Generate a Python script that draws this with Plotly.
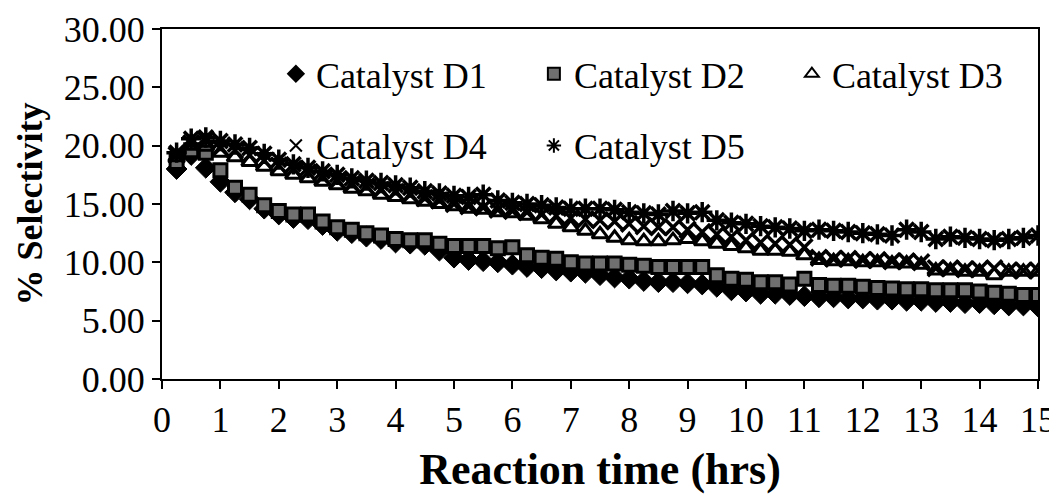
import plotly.graph_objects as go

hours = [0.25 * i for i in range(1, 61)]

d1 = [18.0, 19.2, 18.1, 16.9, 16.0, 15.4, 14.6, 14.1, 13.8, 13.7,
      13.2, 12.7, 12.5, 12.2, 12.0, 11.7, 11.6, 11.5, 11.0, 10.4,
      10.2, 10.1, 10.0, 9.8, 9.6, 9.5, 9.3, 9.2, 9.1, 8.9,
      8.7, 8.6, 8.4, 8.3, 8.3, 8.2, 8.1, 7.9, 7.6, 7.5,
      7.3, 7.3, 7.2, 7.1, 7.0, 7.0, 6.9, 6.9, 6.8, 6.8,
      6.7, 6.7, 6.6, 6.6, 6.5, 6.5, 6.4, 6.3, 6.3, 6.2]

d2 = [18.6, 19.6, 19.4, 17.9, 16.4, 15.8, 14.9, 14.4, 14.1, 14.1,
      13.5, 13.0, 12.8, 12.5, 12.3, 12.0, 11.9, 11.9, 11.6, 11.4,
      11.4, 11.4, 11.2, 11.3, 10.6, 10.4, 10.3, 10.0, 9.9, 9.9,
      9.9, 9.8, 9.7, 9.6, 9.6, 9.6, 9.6, 8.9, 8.6, 8.5,
      8.3, 8.3, 8.1, 8.6, 8.05, 8.0, 8.0, 7.9, 7.8, 7.75,
      7.7, 7.7, 7.6, 7.6, 7.6, 7.5, 7.4, 7.3, 7.2, 7.2]

d3 = [19.0, 20.0, 19.9, 19.4, 19.0, 18.6, 18.2, 17.8, 17.5, 17.2,
      16.9, 16.6, 16.3, 16.1, 15.8, 15.6, 15.4, 15.2, 15.0, 14.8,
      14.6, 14.5, 14.3, 14.2, 14.0, 13.7, 13.3, 13.0, 12.7, 12.4,
      12.1, 11.9, 11.8, 11.8, 11.9, 12.0, 11.8, 11.6, 11.4, 11.2,
      11.0, 11.0, 10.9, 10.6, 10.2, 10.1, 10.1, 10.0, 10.0, 9.9,
      9.9, 9.8, 9.3, 9.3, 9.2, 9.2, 8.9, 9.2, 9.2, 9.2]

d4 = [19.2, 20.2, 20.5, 19.8, 19.6, 19.2, 18.7, 18.3, 18.0, 17.7,
      17.3, 17.0, 16.7, 16.5, 16.2, 16.0, 15.8, 15.5, 15.3, 15.0,
      14.8, 14.7, 14.5, 14.4, 14.3, 14.1, 14.0, 13.8, 13.7, 13.6,
      13.5, 13.3, 13.1, 13.0, 13.0, 12.8, 12.6, 12.4, 12.2, 11.9,
      11.7, 11.6, 11.5, 11.3, 10.4, 10.3, 10.3, 10.2, 10.2, 10.1,
      10.1, 10.0, 9.5, 9.5, 9.4, 9.4, 9.5, 9.3, 9.3, 9.3]

d5 = [19.4, 20.6, 20.7, 20.4, 20.1, 19.8, 19.3, 18.8, 18.4, 18.1,
      17.8, 17.5, 17.2, 17.0, 16.8, 16.6, 16.4, 16.1, 15.9, 15.7,
      15.6, 15.8, 15.3, 15.1, 15.0, 14.9, 14.7, 14.6, 14.6, 14.6,
      14.5, 14.3, 14.2, 14.1, 14.4, 14.2, 14.3, 13.6, 13.4, 13.3,
      13.1, 13.0, 12.9, 12.7, 12.8, 12.7, 12.6, 12.5, 12.4, 12.3,
      12.8, 12.6, 12.0, 12.2, 12.1, 12.0, 11.9, 12.0, 12.1, 12.3]

names = ["Catalyst D1", "Catalyst D2", "Catalyst D3", "Catalyst D4", "Catalyst D5"]

FONT = "Liberation Serif, Times New Roman, serif"

fig = go.Figure()
fig.add_trace(go.Scatter(x=hours, y=d1, mode="markers", name=names[0], legend="legend",
                         marker=dict(symbol="diamond", size=16, color="black",
                                     line=dict(color="black", width=1))))
fig.add_trace(go.Scatter(x=hours, y=d2, mode="markers", name=names[1], legend="legend",
                         marker=dict(symbol="square", size=13, color="#707070",
                                     line=dict(color="black", width=3))))
fig.add_trace(go.Scatter(x=hours, y=d3, mode="markers", name=names[2], legend="legend",
                         marker=dict(symbol="triangle-up-open", size=14, color="black",
                                     line=dict(color="black", width=3))))
fig.add_trace(go.Scatter(x=hours, y=d4, mode="markers", name=names[3], legend="legend2",
                         marker=dict(symbol="x-thin-open", size=16, color="black",
                                     line=dict(color="black", width=3.5))))
fig.add_trace(go.Scatter(x=hours, y=d5, mode="markers", name=names[4], legend="legend2",
                         marker=dict(symbol="asterisk-open", size=17, color="black",
                                     line=dict(color="black", width=3.5))))

legend_common = dict(orientation="h", xanchor="left", yanchor="middle",
                     font=dict(family=FONT, size=36, color="black"),
                     bgcolor="rgba(0,0,0,0)", entrywidth=213, itemwidth=30,
                     itemsizing="constant", tracegroupgap=0)
fig.update_layout(
    width=1049, height=486,
    margin=dict(l=154, r=19, t=21, b=115, autoexpand=False),
    paper_bgcolor="white", plot_bgcolor="white",
    font=dict(family=FONT, size=36, color="black"),
    showlegend=True,
    legend=dict(x=0.13, y=0.872, **legend_common),
    legend2=dict(x=0.13, y=0.667, **legend_common),
    xaxis=dict(range=[0, 15], dtick=1, tick0=0, showgrid=False, zeroline=False,
               automargin=False,
               showline=True, linecolor="black", linewidth=2, mirror=True,
               ticks="outside", ticklen=8, tickwidth=2, tickcolor="black",
               tickfont=dict(family=FONT, size=36),
               title=dict(text="<b>Reaction time (hrs)</b>", font=dict(family=FONT, size=44),
                          standoff=14)),
    yaxis=dict(range=[0, 30], dtick=5, tick0=0, tickformat=".2f", showgrid=False,
               automargin=False,
               zeroline=False, showline=True, linecolor="black", linewidth=2, mirror=True,
               ticks="outside", ticklen=8, tickwidth=2, tickcolor="black",
               tickfont=dict(family=FONT, size=36),
               title=dict(text="<b>% Selectivity</b>", font=dict(family=FONT, size=36),
                          standoff=10)),
)

fig.write_html("out.html")
